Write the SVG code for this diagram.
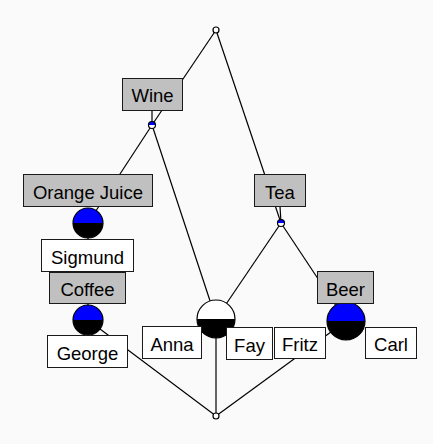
<svg xmlns="http://www.w3.org/2000/svg" width="433" height="444" viewBox="0 0 433 444">
<style>
.edge{stroke:#000;stroke-width:1.2;fill:none}
.lbl{stroke:#1a1a1a;stroke-width:1;}
.attr{fill:#c0c0c0}
.obj{fill:#ffffff}
.t{font-family:"Liberation Sans",Arial,sans-serif;font-size:18.5px;fill:#000;text-anchor:middle}
.ring{fill:none;stroke:#000;stroke-width:1.2}
.blue{fill:#0000ff}
.black{fill:#000}
.white{fill:#fff}
</style>
<rect x="0" y="0" width="433" height="444" fill="#fafafa"/>
<g id="connectors">
<line class="edge" x1="216" y1="30" x2="152" y2="125"/>
<line class="edge" x1="216" y1="30" x2="281" y2="223"/>
<line class="edge" x1="152" y1="125" x2="88" y2="223"/>
<line class="edge" x1="152" y1="125" x2="216" y2="319"/>
<line class="edge" x1="281" y1="223" x2="216" y2="319"/>
<line class="edge" x1="281" y1="223" x2="346" y2="321"/>
<line class="edge" x1="88" y1="223" x2="88" y2="320"/>
<line class="edge" x1="88" y1="320" x2="216" y2="416"/>
<line class="edge" x1="216" y1="319" x2="216" y2="416"/>
<line class="edge" x1="346" y1="321" x2="216" y2="416"/>
<line class="edge" x1="152" y1="125" x2="152" y2="110"/>
<line class="edge" x1="281" y1="223" x2="280" y2="206"/>
</g>
<g id="n-top"><circle cx="216" cy="30" r="3" class="white"/><circle cx="216" cy="30" r="3" class="ring"/></g>
<g id="n-wine">
<path class="blue" d="M148.5,125 A3.5,3.5 0 0 1 155.5,125 Z"/>
<path class="white" d="M148.5,125 A3.5,3.5 0 0 0 155.5,125 Z"/>
<circle cx="152" cy="125" r="3.5" class="ring"/>
</g>
<g id="n-tea">
<path class="blue" d="M277.5,223 A3.5,3.5 0 0 1 284.5,223 Z"/>
<path class="white" d="M277.5,223 A3.5,3.5 0 0 0 284.5,223 Z"/>
<circle cx="281" cy="223" r="3.5" class="ring"/>
</g>
<g id="n-oj">
<path class="blue" d="M73,223 A15,15 0 0 1 103,223 Z"/>
<path class="black" d="M73,223 A15,15 0 0 0 103,223 Z"/>
<circle cx="88" cy="223" r="15" class="ring"/>
</g>
<g id="n-coffee">
<path class="blue" d="M73,320 A15,15 0 0 1 103,320 Z"/>
<path class="black" d="M73,320 A15,15 0 0 0 103,320 Z"/>
<circle cx="88" cy="320" r="15" class="ring"/>
</g>
<g id="n-annafay">
<path class="white" d="M197,319 A19,19 0 0 1 235,319 Z"/>
<path class="black" d="M197,319 A19,19 0 0 0 235,319 Z"/>
<circle cx="216" cy="319" r="19" class="ring"/>
</g>
<g id="n-beer">
<path class="blue" d="M327,321 A19,19 0 0 1 365,321 Z"/>
<path class="black" d="M327,321 A19,19 0 0 0 365,321 Z"/>
<circle cx="346" cy="321" r="19" class="ring"/>
</g>
<g id="n-bottom"><circle cx="216" cy="416" r="3" class="white"/><circle cx="216" cy="416" r="3" class="ring"/></g>
<g id="l-wine"><rect class="lbl attr" x="122.5" y="78.5" width="60" height="32"/><text class="t" x="152.5" y="102">Wine</text></g>
<g id="l-oj"><rect class="lbl attr" x="23.5" y="174.5" width="129" height="32"/><text class="t" x="88" y="198.5">Orange Juice</text></g>
<g id="l-tea"><rect class="lbl attr" x="254.5" y="174.5" width="51" height="32"/><text class="t" x="280" y="198.5">Tea</text></g>
<g id="l-sigmund"><rect class="lbl obj" x="41.5" y="239.5" width="92" height="32"/><text class="t" x="87.5" y="263.5">Sigmund</text></g>
<g id="l-coffee"><rect class="lbl attr" x="49.5" y="272.5" width="76" height="31"/><text class="t" x="87.5" y="296">Coffee</text></g>
<g id="l-beer"><rect class="lbl attr" x="317.5" y="271.5" width="56" height="32"/><text class="t" x="345.5" y="295.5">Beer</text></g>
<g id="l-george"><rect class="lbl obj" x="47.5" y="335.5" width="80" height="32"/><text class="t" x="87.5" y="359.5">George</text></g>
<g id="l-anna"><rect class="lbl obj" x="142.5" y="326.5" width="59" height="32"/><text class="t" x="172" y="350.5">Anna</text></g>
<g id="l-fay"><rect class="lbl obj" x="226.5" y="327.5" width="46" height="32"/><text class="t" x="249.5" y="351.5">Fay</text></g>
<g id="l-fritz"><rect class="lbl obj" x="274.5" y="327.5" width="51" height="31"/><text class="t" x="300" y="351">Fritz</text></g>
<g id="l-carl"><rect class="lbl obj" x="365.5" y="327.5" width="51" height="31"/><text class="t" x="391" y="351">Carl</text></g>
</svg>
